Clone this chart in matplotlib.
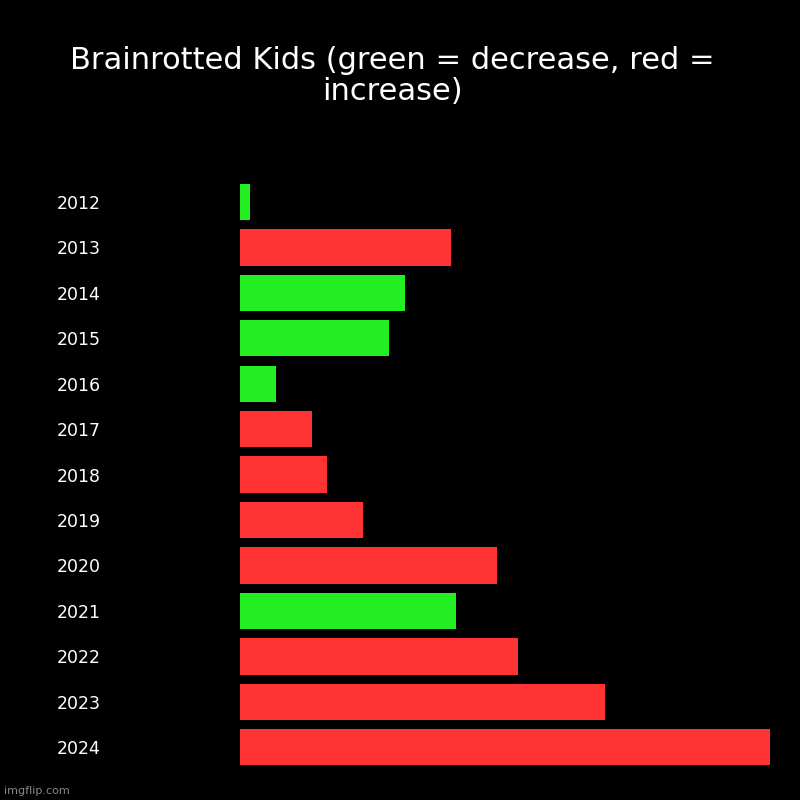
import matplotlib
matplotlib.use("Agg")
import matplotlib.pyplot as plt

years = ["2012","2013","2014","2015","2016","2017","2018","2019","2020","2021","2022","2023","2024"]
values = [10, 211, 165, 149, 36, 72, 87, 123, 257, 216, 278, 365, 530]
direction = ["dec","inc","dec","dec","dec","inc","inc","inc","inc","dec","inc","inc","inc"]
colors = {"dec": "#22ee22", "inc": "#ff3333"}

fig = plt.figure(figsize=(8, 8), dpi=100, facecolor="black")
ax = fig.add_axes([0.3, 0.0375, 0.6625, 0.7385], facecolor="black")
ax.barh(range(len(years)), values, height=0.8, color=[colors[d] for d in direction])
ax.set_ylim(len(years) - 0.5, -0.5)
ax.set_xlim(0, max(values))
ax.set_yticks(range(len(years)))
ax.set_yticklabels(years, color="white", fontsize=12.5, ha="right")
ax.tick_params(axis="y", length=0, pad=100)
ax.set_xticks([])
for s in ax.spines.values():
    s.set_visible(False)
fig.text(0.49, 0.905, "Brainrotted Kids (green = decrease, red =\nincrease)", color="white",
         fontsize=22, ha="center", va="center", linespacing=1.1)
fig.text(0.005, 0.005, "imgflip.com", color="#888888", fontsize=8, ha="left", va="bottom")
fig.savefig("out.png", facecolor="black")
